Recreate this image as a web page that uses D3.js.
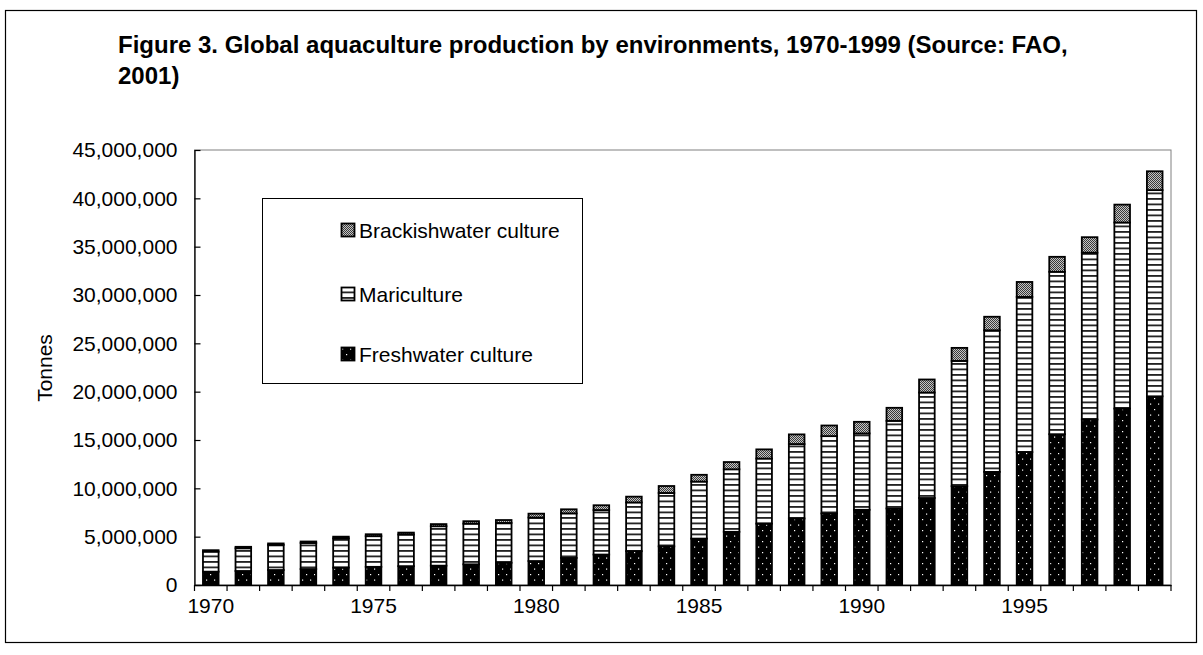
<!DOCTYPE html>
<html>
<head>
<meta charset="utf-8">
<script src="https://cdn.jsdelivr.net/npm/d3@7"></script>
<style>
  body { margin: 0; background: #fff; }
  svg text { font-family: Arial, "Liberation Sans", sans-serif; fill: #000; }
</style>
</head>
<body>
<svg id="chart" width="1203" height="655"></svg>
<script>
const years = [1970, 1971, 1972, 1973, 1974, 1975, 1976, 1977, 1978, 1979,
  1980, 1981, 1982, 1983, 1984, 1985, 1986, 1987, 1988, 1989,
  1990, 1991, 1992, 1993, 1994, 1995, 1996, 1997, 1998, 1999];
const freshwater = [1380000, 1450000, 1550000, 1650000, 1800000, 1880000, 1950000, 2000000, 2140000, 2300000,
  2480000, 2800000, 3150000, 3500000, 4000000, 4800000, 5500000, 6350000, 6880000, 7400000,
  7780000, 7920000, 9000000, 10220000, 11700000, 13750000, 15600000, 17120000, 18250000, 19520000];
const mariculture = [2070000, 2350000, 2600000, 2700000, 3020000, 3170000, 3270000, 4080000, 4210000, 4120000,
  4500000, 4610000, 4600000, 5040000, 5520000, 5900000, 6470000, 6730000, 7700000, 8000000,
  7900000, 9060000, 10910000, 12960000, 14650000, 16050000, 16800000, 17260000, 19250000, 21330000];
const brackishwater = [150000, 150000, 150000, 150000, 180000, 200000, 200000, 220000, 250000, 300000,
  400000, 420000, 500000, 600000, 720000, 700000, 750000, 950000, 1000000, 1100000,
  1200000, 1350000, 1350000, 1350000, 1400000, 1550000, 1550000, 1600000, 1850000, 1950000];
const seriesNames = ["Freshwater culture", "Mariculture", "Brackishwater culture"];
const yTicks = [0, 5000000, 10000000, 15000000, 20000000, 25000000, 30000000, 35000000, 40000000, 45000000];
const xLabels = [1970, 1975, 1980, 1985, 1990, 1995];

const svg = d3.select("#chart");
const plotLeft = 194.5, plotRight = 1171, plotTop = 150, plotBottom = 585;

// outer frame
svg.append("rect").attr("x", 5.5).attr("y", 10.5).attr("width", 1191).attr("height", 632)
  .attr("fill", "#fff").attr("stroke", "#000").attr("stroke-width", 1.2);

// patterns
const defs = svg.append("defs");
const pFresh = defs.append("pattern").attr("id", "p-fresh").attr("patternUnits", "userSpaceOnUse")
  .attr("width", 8).attr("height", 11);
pFresh.append("rect").attr("width", 8).attr("height", 11).attr("fill", "#000");
pFresh.append("rect").attr("x", 2).attr("y", 2).attr("width", 1.2).attr("height", 1.2).attr("fill", "#fff");
pFresh.append("rect").attr("x", 6).attr("y", 7.5).attr("width", 1.2).attr("height", 1.2).attr("fill", "#fff");

const pMari = defs.append("pattern").attr("id", "p-mari").attr("patternUnits", "userSpaceOnUse")
  .attr("width", 8).attr("height", 5.5);
pMari.append("rect").attr("width", 8).attr("height", 5.5).attr("fill", "#fff");
pMari.append("rect").attr("y", 0).attr("width", 8).attr("height", 1.8).attr("fill", "#222");

const pBrack = defs.append("pattern").attr("id", "p-brack").attr("patternUnits", "userSpaceOnUse")
  .attr("width", 2).attr("height", 2);
pBrack.append("rect").attr("width", 2).attr("height", 2).attr("fill", "#c4c4c4");
pBrack.append("rect").attr("width", 1).attr("height", 1).attr("fill", "#3a3a3a");
pBrack.append("rect").attr("x", 1).attr("y", 1).attr("width", 1).attr("height", 1).attr("fill", "#3a3a3a");

const fills = ["url(#p-fresh)", "url(#p-mari)", "url(#p-brack)"];

// title
const title = svg.append("text").style("font-weight", "bold").style("font-size", "24px");
title.append("tspan").attr("x", 118).attr("y", 53)
  .text("Figure 3. Global aquaculture production by environments, 1970-1999 (Source: FAO,");
title.append("tspan").attr("x", 118).attr("y", 84).text("2001)");

// scales
const x = d3.scaleBand().domain(years).range([plotLeft, plotRight]).paddingInner(0.52).paddingOuter(0.26);
const y = d3.scaleLinear().domain([0, 45000000]).range([plotBottom, plotTop]);

// plot area border (top and right)
svg.append("rect").attr("x", plotLeft).attr("y", plotTop)
  .attr("width", plotRight - plotLeft).attr("height", plotBottom - plotTop)
  .attr("fill", "none").attr("stroke", "#808080").attr("stroke-width", 1);

// stacked bars
const rows = years.map((yr, i) => ({
  year: yr, fresh: freshwater[i], mari: mariculture[i], brack: brackishwater[i]
}));
const layers = d3.stack().keys(["fresh", "mari", "brack"])(rows);

svg.append("g").selectAll("g")
  .data(layers)
  .join("g")
  .attr("fill", (d, i) => fills[i])
  .selectAll("rect")
  .data(d => d)
  .join("rect")
  .attr("x", d => x(d.data.year))
  .attr("y", d => y(d[1]))
  .attr("width", x.bandwidth())
  .attr("height", d => y(d[0]) - y(d[1]))
  .attr("stroke", "#000")
  .attr("stroke-width", 1.8);

// y axis
const yAxis = svg.append("g").attr("transform", `translate(${plotLeft},0)`)
  .call(d3.axisLeft(y).tickValues(yTicks).tickFormat(d3.format(","))
    .tickSizeInner(-6).tickSizeOuter(0).tickPadding(17));
yAxis.select(".domain").attr("stroke", "#000").attr("stroke-width", 1.3);
yAxis.selectAll(".tick line").attr("stroke", "#000").attr("stroke-width", 1.2);
yAxis.selectAll("text").style("font-size", "21px").style("font-family", "Arial, 'Liberation Sans', sans-serif");

// x axis
const xAxis = svg.append("g").attr("transform", `translate(0,${plotBottom})`)
  .call(d3.axisBottom(x).tickValues(xLabels).tickSize(0).tickPadding(13));
xAxis.select(".domain").attr("stroke", "#000").attr("stroke-width", 1.3);
xAxis.selectAll("text").style("font-size", "21px").style("font-family", "Arial, 'Liberation Sans', sans-serif");

const bounds = years.map(d => x(d) - x.step() * x.paddingInner() / 2).concat([plotRight]);
xAxis.selectAll(".bound")
  .data(bounds)
  .join("line")
  .attr("class", "bound")
  .attr("x1", d => d).attr("x2", d => d)
  .attr("y1", 0).attr("y2", 6)
  .attr("stroke", "#000").attr("stroke-width", 1.2);

// y title
svg.append("text")
  .attr("transform", "translate(52,368) rotate(-90)")
  .attr("text-anchor", "middle")
  .style("font-size", "21px")
  .text("Tonnes");

// legend
const lg = svg.append("g");
lg.append("rect").attr("x", 262.5).attr("y", 198.5).attr("width", 320).attr("height", 185)
  .attr("fill", "#fff").attr("stroke", "#000").attr("stroke-width", 1);
const legendRows = [
  { name: seriesNames[2], fill: fills[2], cy: 230 },
  { name: seriesNames[1], fill: fills[1], cy: 294 },
  { name: seriesNames[0], fill: fills[0], cy: 354 }
];
const items = lg.selectAll(".item").data(legendRows).join("g").attr("class", "item");
items.append("rect")
  .attr("x", 341.5).attr("y", d => d.cy - 6.5)
  .attr("width", 13).attr("height", 13)
  .attr("fill", d => d.fill).attr("stroke", "#000").attr("stroke-width", 1.8);
items.append("text")
  .attr("x", 359).attr("y", d => d.cy + 7.5)
  .style("font-size", "21px")
  .text(d => d.name);
</script>
</body>
</html>
